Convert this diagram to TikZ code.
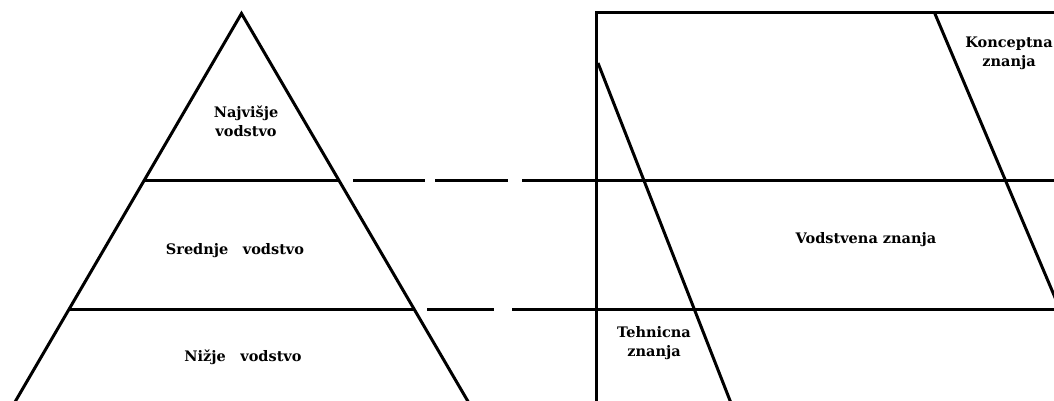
\documentclass[tikz,border=0pt]{standalone}
\usepackage{fontspec}
\setmainfont{DejaVu Serif}
\begin{document}
\begin{tikzpicture}[x=1pt,y=-1pt,
  ln/.style={line width=3pt},
  lbl/.style={font=\bfseries\fontsize{14.5}{19}\selectfont, align=center, inner sep=0pt}]
\useasboundingbox (0,0) rectangle (1054,401);
\clip (0,0) rectangle (1054,401);
% pyramid
\coordinate (apex) at (241.5,13.5);
\coordinate (bl) at (10.3,410);
\coordinate (br) at (473,410);
\coordinate (u1) at (144.1,180.5);
\coordinate (u2) at (339.0,180.5);
\coordinate (l1) at (69.2,309);
\coordinate (l2) at (414.1,309);
\draw[ln] (bl) -- (apex) -- (br);
\draw[ln] (u1) -- (u2);
\draw[ln] (l1) -- (l2);
% dashes
\coordinate (d1a) at (353,180.5); \coordinate (d1b) at (425,180.5);
\coordinate (d2a) at (435,180.5); \coordinate (d2b) at (508,180.5);
\coordinate (d3a) at (427,309); \coordinate (d3b) at (494,309);
\draw[ln] (d1a) -- (d1b);
\draw[ln] (d2a) -- (d2b);
\draw[ln] (d3a) -- (d3b);
% right panel
\coordinate (tl) at (596,12.7);
\coordinate (tr) at (1060,12.7);
\coordinate (vb) at (596,410);
\coordinate (h1a) at (522,180.5); \coordinate (h1b) at (1060,180.5);
\coordinate (h2a) at (512,309); \coordinate (h2b) at (1060,309);
\coordinate (t1) at (598,63); \coordinate (t2) at (733.7,410);
\coordinate (k1) at (934.5,12.7); \coordinate (k2) at (1102.6,410);
\draw[ln] (tr) -- (tl) -- (vb);
\draw[ln] (h1a) -- (h1b);
\draw[ln] (h2a) -- (h2b);
\draw[ln] (t1) -- (t2);
\draw[ln] (k1) -- (k2);
% labels
\node[lbl] (naj) at (246,121) {Najvišje\\vodstvo};
\node[lbl] (sred) at (235,251) {Srednje\quad vodstvo};
\node[lbl] (niz) at (243,357) {Nižje\quad vodstvo};
\node[lbl] (vod) at (866,240) {Vodstvena znanja};
\node[lbl] (teh) at (654,343) {Tehnicna\\znanja};
\node[lbl] (kon) at (1009,53) {Konceptna\\znanja};
\end{tikzpicture}
\end{document}
